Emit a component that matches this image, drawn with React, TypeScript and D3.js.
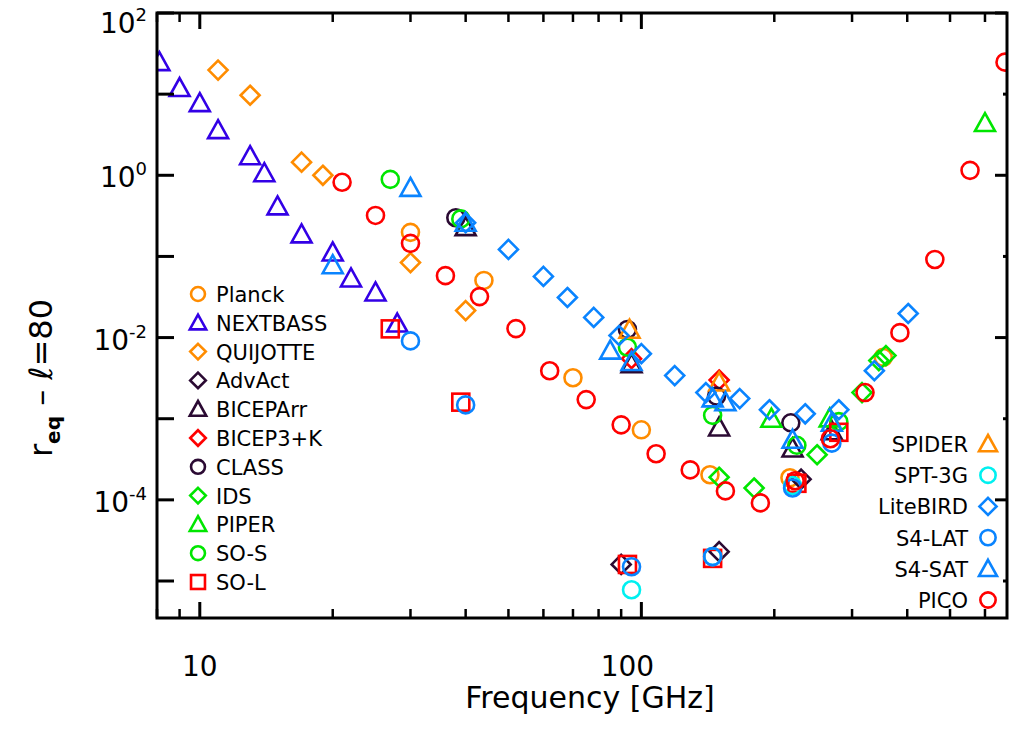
import React from "react";
import * as d3 from "d3";

const W = 1009, H = 731;
const M = { left: 157, right: 1007, top: 13, bottom: 618 };
const X_DOMAIN = [8, 673];
const Y_DOMAIN = [3.5e-6, 100];

type Pt = [number, number];
const planck: Pt[] = [[30, 0.198], [44, 0.0506], [70, 0.0032], [100, 0.00073], [143, 0.000204], [217, 0.000187], [353, 0.0057]];
const nextbass: Pt[] = [[8.1, 24.8], [9, 11.9], [10, 7.74], [11, 3.6], [13, 1.72], [14, 1.06], [15, 0.414], [17, 0.187], [20, 0.112], [22, 0.0535], [25, 0.036], [28, 0.0149]];
const quijote: Pt[] = [[11, 19.8], [13, 9.7], [17, 1.45], [19, 1.0], [30, 0.084], [40, 0.0215]];
const advact: Pt[] = [[90, 1.6e-5], [150, 2.3e-5], [230, 1.8e-4]];
const biceparr: Pt[] = [[40, 0.23], [95, 0.0047], [150, 0.00078], [220, 0.00043], [270, 0.0007]];
const bicep3k: Pt[] = [[95, 0.0055], [150, 0.003]];
const classD: Pt[] = [[38, 0.3], [93, 0.0126], [148, 0.0019], [218, 0.00089]];
const ids: Pt[] = [[150, 0.00019], [180, 0.00014], [250, 0.00036], [316, 0.0021], [345, 0.0052], [358, 0.006]];
const piper: Pt[] = [[197, 0.001], [267, 0.00101], [600, 4.4]];
const sos: Pt[] = [[27, 0.89], [39, 0.29], [93, 0.0076], [145, 0.0011], [225, 0.00047], [280, 0.00092]];
const sol: Pt[] = [[27, 0.0128], [39, 0.0016], [93, 1.6e-5], [145, 1.9e-5], [225, 1.6e-4], [280, 0.00068]];
const spider: Pt[] = [[94, 0.0125], [150, 0.0028]];
const spt3g: Pt[] = [[95, 7.8e-6], [145, 2.0e-5], [220, 1.5e-4]];
const litebird: Pt[] = [[40, 0.26], [50, 0.122], [60, 0.0567], [68, 0.0312], [78, 0.0177], [89, 0.0106], [100, 0.00634], [119, 0.0034], [140, 0.0021], [167, 0.00177], [195, 0.00129], [235, 0.00115], [280, 0.00129], [337, 0.0039], [402, 0.0198]];
const s4lat: Pt[] = [[30, 0.0091], [40, 0.00148], [95, 1.5e-5], [145, 2.0e-5], [220, 1.4e-4], [270, 0.0005]];
const s4sat: Pt[] = [[30, 0.7], [40, 0.26], [20, 0.078], [85, 0.0069], [95, 0.005], [145, 0.00178], [155, 0.0016], [220, 0.00055], [270, 0.00089]];
const pico: Pt[] = [[21, 0.82], [25, 0.32], [30, 0.145], [36, 0.058], [43, 0.032], [52, 0.0129], [62, 0.0039], [75, 0.00172], [90, 0.00084], [108, 0.00037], [129, 0.000234], [155, 0.000129], [186, 0.0000918], [223, 0.000172], [268, 0.000566], [321, 0.0021], [385, 0.0115], [462, 0.0918], [555, 1.15], [666, 24.8]];
const xTickLabels = [10, 100];

type Shape = "circle" | "tri" | "diamond" | "square";
const ORANGE = "#ff8c00", NAVY = "#3300e6", DARK = "#2b0a33", RED = "#ff0000", GREEN = "#00e600", BLUE = "#0a84ff", CYAN = "#00f0f0";

const leftLegend: [string, Shape, string, Pt[]][] = [
  ["Planck", "circle", ORANGE, planck],
  ["NEXTBASS", "tri", NAVY, nextbass],
  ["QUIJOTTE", "diamond", ORANGE, quijote],
  ["AdvAct", "diamond", DARK, advact],
  ["BICEPArr", "tri", DARK, biceparr],
  ["BICEP3+K", "diamond", RED, bicep3k],
  ["CLASS", "circle", DARK, classD],
  ["IDS", "diamond", GREEN, ids],
  ["PIPER", "tri", GREEN, piper],
  ["SO-S", "circle", GREEN, sos],
  ["SO-L", "square", RED, sol],
];
const rightLegend: [string, Shape, string, Pt[]][] = [
  ["SPIDER", "tri", ORANGE, spider],
  ["SPT-3G", "circle", CYAN, spt3g],
  ["LiteBIRD", "diamond", BLUE, litebird],
  ["S4-LAT", "circle", BLUE, s4lat],
  ["S4-SAT", "tri", BLUE, s4sat],
  ["PICO", "circle", RED, pico],
];

function Marker({ shape, x, y, color, s = 1 }: { shape: Shape; x: number; y: number; color: string; s?: number }) {
  const common = { fill: "none", stroke: color, strokeWidth: 2.6 };
  if (shape === "circle") return <circle cx={x} cy={y} r={8.5 * s} {...common} />;
  if (shape === "square") return <rect x={x - 8.5 * s} y={y - 8.5 * s} width={17 * s} height={17 * s} {...common} />;
  if (shape === "diamond") {
    const r = 9.5 * s;
    return <path d={`M${x},${y - r}L${x + r},${y}L${x},${y + r}L${x - r},${y}Z`} {...common} />;
  }
  const h = 10 * s;
  return <path d={`M${x},${y - h}L${x + h},${y + h * 0.8}L${x - h},${y + h * 0.8}Z`} {...common} />;
}

export default function App() {
  const x = d3.scaleLog().domain(X_DOMAIN).range([M.left, M.right]);
  const y = d3.scaleLog().domain(Y_DOMAIN).range([M.bottom, M.top]);
  const font = "'DejaVu Sans', sans-serif";
  const xMinor = [8, 9, 20, 30, 40, 50, 60, 70, 80, 90, 200, 300, 400, 500, 600];
  const yMajor = d3.range(-5, 3).map((e) => Math.pow(10, e));
  const all = [...leftLegend, ...rightLegend];
  return (
    <svg width={W} height={H} style={{ position: "absolute", left: 0, top: 0, background: "#fff" }} fontFamily={font}>
      <clipPath id="c"><rect x={M.left} y={M.top} width={M.right - M.left} height={M.bottom - M.top} /></clipPath>
      <g clipPath="url(#c)">
        {all.map(([name, shape, color, pts]) =>
          pts.map((p, i) => <Marker key={name + i} shape={shape} color={color} x={x(p[0])} y={y(p[1])} />)
        )}
      </g>
      <rect x={M.left} y={M.top} width={M.right - M.left} height={M.bottom - M.top} fill="none" stroke="#000" strokeWidth={3} />
      {xTickLabels.map((v, i) => (
        <g key={v}>
          <line x1={x(v)} x2={x(v)} y1={M.bottom} y2={M.bottom - 16} stroke="#000" strokeWidth={3} />
          <line x1={x(v)} x2={x(v)} y1={M.top} y2={M.top + 16} stroke="#000" strokeWidth={3} />
          <text x={x(v) - (i === 0 ? 0 : 14)} y={676} fontSize={28} textAnchor="middle">{v}</text>
        </g>
      ))}
      {xMinor.map((v) => (
        <g key={v}>
          <line x1={x(v)} x2={x(v)} y1={M.bottom} y2={M.bottom - 9} stroke="#000" strokeWidth={2.5} />
          <line x1={x(v)} x2={x(v)} y1={M.top} y2={M.top + 9} stroke="#000" strokeWidth={2.5} />
        </g>
      ))}
      {yMajor.map((v, i) => {
        const e = Math.round(Math.log10(v));
        const labeled = e % 2 === 0;
        return (
          <g key={i}>
            <line x1={M.left} x2={M.left + 17} y1={y(v)} y2={y(v)} stroke="#000" strokeWidth={3} />
            <line x1={M.right} x2={M.right - (labeled ? 12 : 4)} y1={y(v)} y2={y(v)} stroke="#000" strokeWidth={3} />
            {labeled && (
              <text x={M.left - 10} y={y(v) + (e === 2 ? 20 : 12)} fontSize={28} textAnchor="end">
                10<tspan dy={-12} fontSize={18}>{e}</tspan>
              </text>
            )}
          </g>
        );
      })}
      <text x={590} y={708} fontSize={30} textAnchor="middle">Frequency [GHz]</text>
      <g transform="translate(52,378) rotate(-90)">
        <text x={0} y={0} fontSize={32} textAnchor="middle">
          r<tspan dy={8} fontSize={20} fontWeight="bold">eq</tspan><tspan dy={-8}>  –  </tspan><tspan fontStyle="italic">ℓ</tspan>=80
        </text>
      </g>
      {leftLegend.map(([name, shape, color], i) => (
        <g key={name}>
          <Marker shape={shape} color={color} x={198} y={294 + i * 28.8} s={0.82} />
          <text x={216} y={294 + i * 28.8 + 8} fontSize={21}>{name}</text>
        </g>
      ))}
      {rightLegend.map(([name, shape, color], i) => (
        <g key={name}>
          <Marker shape={shape} color={color} x={988} y={444 + i * 31.2} s={0.9} />
          <text x={968} y={444 + i * 31.2 + 8} fontSize={21} textAnchor="end">{name}</text>
        </g>
      ))}
    </svg>
  );
}
